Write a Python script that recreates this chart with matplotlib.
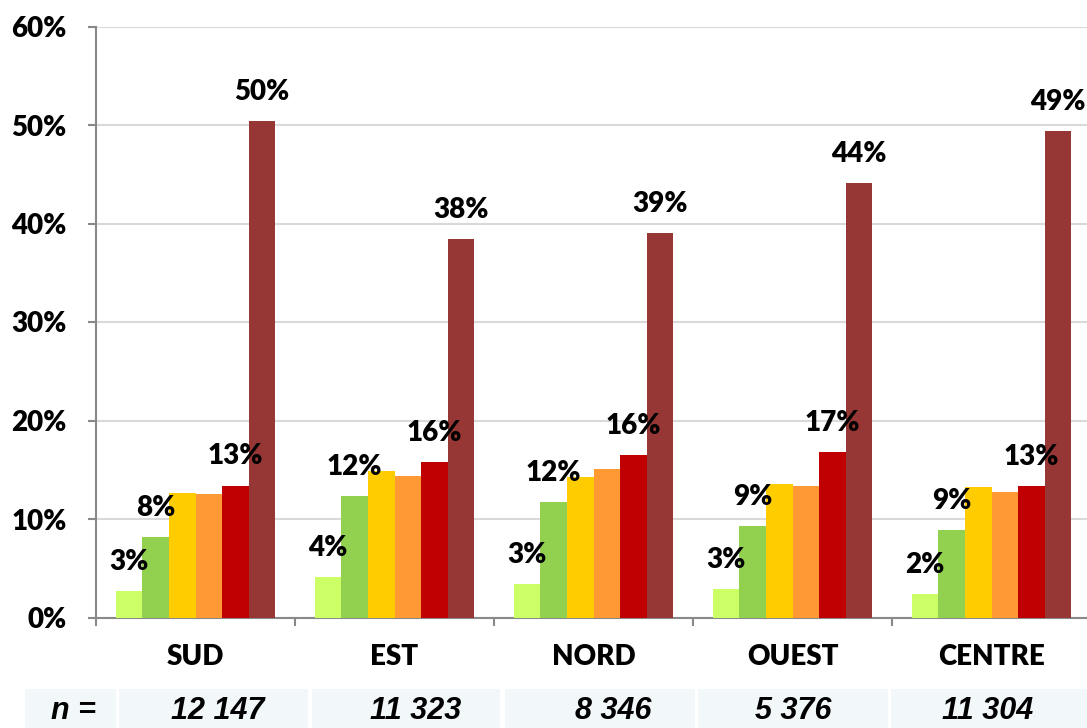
import matplotlib
matplotlib.use("Agg")
import matplotlib.pyplot as plt
from matplotlib import font_manager
from matplotlib.patches import Rectangle
import numpy as np

regions = ["SUD", "EST", "NORD", "OUEST", "CENTRE"]
s1 = [2.7, 4.1, 3.4, 2.9, 2.4]
s2 = [8.2, 12.3, 11.7, 9.3, 8.9]
s3 = [12.6, 14.9, 14.3, 13.6, 13.2]
s4 = [12.5, 14.4, 15.1, 13.4, 12.7]
s5 = [13.4, 15.8, 16.5, 16.8, 13.3]
s6 = [50.4, 38.4, 39.0, 44.1, 49.4]
series = [s1, s2, s3, s4, s5, s6]
labelled = [True, True, False, False, True, True]
colors = ["#CCFF66", "#92D050", "#FFCC00", "#FF9933", "#C00000", "#963735"]
n_label = "n ="
n_values = ["12 147", "11 323", "8 346", "5 376", "11 304"]
yticks = [0, 10, 20, 30, 40, 50, 60]

avail = {f.name for f in font_manager.fontManager.ttflist}
main_font = "Lato" if "Lato" in avail else "DejaVu Sans"
lato_weights = sorted({f.weight for f in font_manager.fontManager.ttflist if f.name == "Lato"},
                      key=lambda w: w if isinstance(w, int) else 700)
heavy = 800 if any(isinstance(w, int) and w >= 800 for w in lato_weights) else "bold"
narrow_font = None
for cand in ["Liberation Sans Narrow", "Arial Narrow", "DejaVu Sans Condensed"]:
    if cand in avail:
        narrow_font = cand
        break
if narrow_font is None:
    narrow_font = "Liberation Sans"
plt.rcParams['font.family'] = [main_font, 'DejaVu Sans']

W, H = 1087, 728
fig = plt.figure(figsize=(W / 100, H / 100), dpi=100)
ax_left, ax_bottom = 96 / W, (H - 617.5) / H
ax_w, ax_h = 995 / W, 591 / H
ax = fig.add_axes([ax_left, ax_bottom, ax_w, ax_h])

nb = len(series)
bw = 0.8 / nb
x = np.arange(len(regions))
for i, (vals, c) in enumerate(zip(series, colors)):
    pos = x + 0.1 + bw * (i + 0.5)
    bars = ax.bar(pos, vals, width=bw, color=c, edgecolor="none", zorder=3)
    if labelled[i]:
        for b, v in zip(bars, vals):
            ax.annotate(f"{v:.0f}%", (b.get_x() + b.get_width() / 2, v),
                        xytext=(0, 21), textcoords="offset points",
                        ha="center", va="center", fontsize=20,
                        fontweight=heavy, color="black", zorder=4)

ax.set_xlim(0, len(regions))
ax.set_ylim(0, 60)
ax.set_yticks(yticks)
ax.set_yticklabels([f"{t}%" for t in yticks], fontsize=20, fontweight=heavy)
ax.yaxis.grid(True, color="#D9D9D9", linewidth=1.5, zorder=0)
ax.set_axisbelow(True)

ax.set_xticks(np.arange(len(regions) + 1))
ax.set_xticklabels([])
ax.set_xticks(x + 0.5, minor=True)
ax.set_xticklabels(regions, minor=True, fontsize=20, fontweight=heavy)
ax.tick_params(axis="x", which="major", length=6, width=1.5, color="#898989", direction="out")
ax.tick_params(axis="x", which="minor", length=0, pad=19)
ax.tick_params(axis="y", length=6, width=1.5, color="#898989", direction="out", pad=15)

for side in ["top", "right"]:
    ax.spines[side].set_visible(False)
for side in ["left", "bottom"]:
    ax.spines[side].set_color("#898989")
    ax.spines[side].set_linewidth(1.5)

# n = table below the chart
cells = [(25, 116), (119, 308), (312, 500), (505, 695), (698, 888), (891, 1087)]
texts = [n_label] + n_values
text_x = [73.5, 218, 416, 613, 793, 988]
for (x0, x1), t, tx in zip(cells, texts, text_x):
    fig.patches.append(Rectangle((x0 / W, 0), (x1 - x0) / W, (H - 689) / H,
                                 transform=fig.transFigure, facecolor="#F2F7FA",
                                 edgecolor="none", zorder=0))
    fig.text(tx / W, (H - 711) / H, t, ha="center", va="center",
             fontsize=22, fontweight="bold", fontstyle="italic",
             family=[narrow_font, "DejaVu Sans"])

fig.savefig("out.png", dpi=100)
